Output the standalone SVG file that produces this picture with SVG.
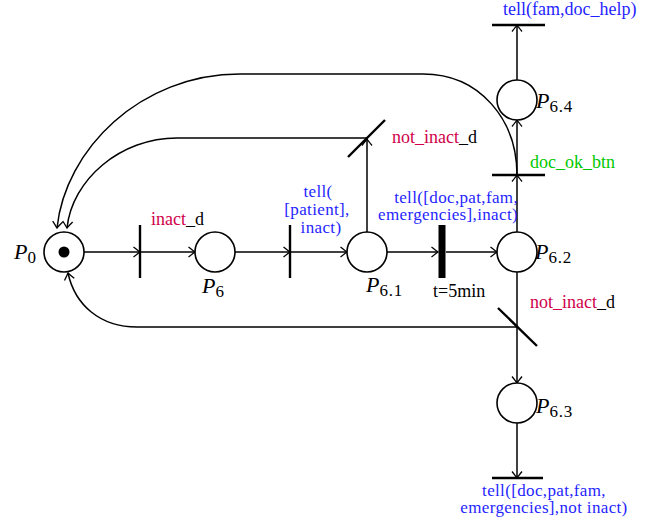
<svg xmlns="http://www.w3.org/2000/svg" width="656" height="524" viewBox="0 0 656 524">
<style>
.pl{fill:#fff;stroke:#000;stroke-width:1.6}
.tr{stroke:#000;stroke-width:2.4;fill:none}
.ar{stroke:#000;stroke-width:1.5;fill:none}
.t{font-family:"Liberation Serif","Times New Roman",serif;font-size:18px}
.m{font-size:17px;letter-spacing:0.35px}
.b{fill:#1f1fff}
.r{fill:#d0004a}
.g{fill:#00c800}
.k{fill:#000}
.P{font-family:"Liberation Serif","Times New Roman",serif;font-size:22px;font-style:italic;fill:#000}
.s{font-style:normal;font-size:17px;letter-spacing:0.8px}
</style>
<defs>
<marker id="arr" viewBox="-8 -6 10 12" refX="0" refY="0" markerWidth="10" markerHeight="12" markerUnits="userSpaceOnUse" orient="auto">
<path d="M-6.5,-5 Q-1.5,-1 0,0 Q-1.5,1 -6.5,5" fill="none" stroke="#000" stroke-width="1.3"/>
</marker>
</defs>
<g id="connectors" class="ar">
<path d="M84,252 H140" marker-end="url(#arr)"/>
<path d="M140,252 H195" marker-end="url(#arr)"/>
<path d="M235,252 H290" marker-end="url(#arr)"/>
<path d="M290,252 H347" marker-end="url(#arr)"/>
<path d="M387,252 H438" marker-end="url(#arr)"/>
<path d="M446,252 H497" marker-end="url(#arr)"/>
<path d="M367,232 V139" marker-end="url(#arr)"/>
<path d="M517,232 V175" marker-end="url(#arr)"/>
<path d="M517,175 V120" marker-end="url(#arr)"/>
<path d="M517,80 V25" marker-end="url(#arr)"/>
<path d="M517,272 V327"/>
<path d="M517,327 V383" marker-end="url(#arr)"/>
<path d="M517,423 V478" marker-end="url(#arr)"/>
<path d="M367,138 H177 C120,138 72,180 67,228" marker-end="url(#arr)"/>
<path d="M517,175 C517,120 480,74 423,74 H240 C140,74 65,150 57,228" marker-end="url(#arr)"/>
<path d="M517,327 H137 C100,327 75,305 68,273" marker-end="url(#arr)"/>
</g>
<g id="P0"><circle class="pl" cx="64" cy="252" r="20"/><circle cx="64" cy="252" r="5.5" fill="#000"/><text class="P" x="14" y="259">P<tspan class="s" dy="4">0</tspan></text></g>
<g id="T1"><line class="tr" x1="140" y1="225" x2="140" y2="278"/><text class="t" x="151" y="225"><tspan class="r">inact</tspan><tspan class="k">_d</tspan></text></g>
<g id="P6"><circle class="pl" cx="215" cy="252" r="20"/><text class="P" x="202" y="293">P<tspan class="s" dy="4">6</tspan></text></g>
<g id="T2"><line class="tr" x1="290" y1="225" x2="290" y2="278"/><text class="t m b" text-anchor="middle"><tspan x="318" y="197">tell(</tspan><tspan x="317" y="215">[patient],</tspan><tspan x="321" y="233">inact)</tspan></text></g>
<g id="P6.1"><circle class="pl" cx="367" cy="252" r="20"/><text class="P" x="366" y="292">P<tspan class="s" dy="4">6.1</tspan></text></g>
<g id="T3"><rect x="438.5" y="225" width="7" height="53" fill="#000"/><text class="t m b" text-anchor="end"><tspan x="518" y="203">tell([doc,pat,fam,</tspan><tspan x="518" y="220">emergencies],inact)</tspan></text><text class="t k" x="433" y="297">t=5min</text></g>
<g id="P6.2"><circle class="pl" cx="517" cy="252" r="20"/><text class="P" x="535" y="259">P<tspan class="s" dy="4">6.2</tspan></text></g>
<g id="T4"><line class="tr" x1="348" y1="157" x2="385" y2="120"/><text class="t" x="392" y="143"><tspan class="r">not_inact</tspan><tspan class="k">_d</tspan></text></g>
<g id="T5"><line class="tr" x1="492" y1="175" x2="545" y2="175"/><text class="t g" x="530" y="168">doc_ok_btn</text></g>
<g id="P6.4"><circle class="pl" cx="517" cy="100" r="20"/><text class="P" x="536" y="108">P<tspan class="s" dy="4">6.4</tspan></text></g>
<g id="T6"><line class="tr" x1="492" y1="25" x2="545" y2="25"/><text class="t b" x="503" y="15">tell(fam,doc_help)</text></g>
<g id="T7"><line class="tr" x1="498" y1="308" x2="537" y2="346"/><text class="t" x="530" y="308"><tspan class="r">not_inact</tspan><tspan class="k">_d</tspan></text></g>
<g id="P6.3"><circle class="pl" cx="517" cy="403" r="20"/><text class="P" x="536" y="413">P<tspan class="s" dy="4">6.3</tspan></text></g>
<g id="T8"><line class="tr" x1="492" y1="478" x2="543" y2="478"/><text class="t m b" text-anchor="middle"><tspan x="544" y="496">tell([doc,pat,fam,</tspan><tspan x="544" y="513">emergencies],not inact)</tspan></text></g>
</svg>
